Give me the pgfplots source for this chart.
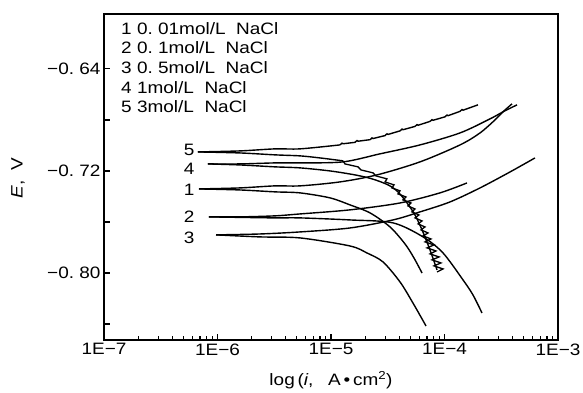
\documentclass[border=0pt]{standalone}
\usepackage{fontspec}
\setmainfont{Liberation Sans}[FakeStretch=1.15]
\usepackage{pgfplots}
\pgfplotsset{compat=1.18}
\frenchspacing
\newcommand{\fs}{\fontsize{16.5bp}{19.7bp}\selectfont}
\begin{document}
\begin{tikzpicture}[x=1bp,y=1bp]
\path[use as bounding box] (0,0) rectangle (583,392);
\begin{axis}[
  at={(104bp,52bp)}, anchor=south west,
  scale only axis, width=454bp, height=326bp,
  xmin=-7, xmax=-3, ymin=-0.8525, ymax=-0.597,
  axis line style={line width=2.3bp},
  tick style={line width=1.2bp, black},
  tick align=inside,
  xtick={-7,-6,-5,-4,-3},
  xticklabels={1E−7,1E−6,1E−5,1E−4,1E−3},
  minor xtick={-6.699,-6.523,-6.398,-6.301,-6.222,-6.155,-6.097,-6.046,
               -5.699,-5.523,-5.398,-5.301,-5.222,-5.155,-5.097,-5.046,
               -4.699,-4.523,-4.398,-4.301,-4.222,-4.155,-4.097,-4.046,
               -3.699,-3.523,-3.398,-3.301,-3.222,-3.155,-3.097,-3.046},
  ytick={-0.84,-0.80,-0.76,-0.72,-0.68,-0.64},
  yticklabels={,−0.\ 80,,−0.\ 72,,−0.\ 64},
  xtick pos=bottom, ytick pos=left,
  major tick length=6bp, minor tick length=4bp,
  tick label style={font=\fs},
]
% curve 1
\addplot[black, line width=1.4bp, smooth, tension=0.5] coordinates {(-6.163,-0.7341) (-5.802,-0.7333) (-5.493,-0.7317) (-5.273,-0.7317) (-4.921,-0.7286) (-4.595,-0.7231) (-4.216,-0.7129) (-3.863,-0.6996) (-3.687,-0.6902) (-3.555,-0.6800) (-3.485,-0.6737) (-3.405,-0.6674)};
\addplot[black, line width=1.4bp, smooth, tension=0.5] coordinates {(-6.163,-0.7341) (-5.802,-0.7349) (-5.493,-0.7364) (-5.273,-0.7372) (-5.009,-0.7411) (-4.833,-0.7466) (-4.656,-0.7529) (-4.480,-0.7639) (-4.348,-0.7772) (-4.269,-0.7882) (-4.198,-0.8000)};
% curve 2
\addplot[black, line width=1.4bp, smooth, tension=0.5] coordinates {(-6.075,-0.7560) (-5.802,-0.7560) (-5.493,-0.7552) (-5.273,-0.7537) (-4.833,-0.7505) (-4.392,-0.7451) (-4.040,-0.7372) (-3.802,-0.7294)};
\addplot[black, line width=1.4bp, smooth, tension=0.5] coordinates {(-6.075,-0.7560) (-5.802,-0.7564) (-5.493,-0.7568) (-5.273,-0.7568) (-4.833,-0.7584) (-4.454,-0.7607) (-4.189,-0.7717) (-4.013,-0.7843) (-3.837,-0.8054) (-3.749,-0.8172) (-3.670,-0.8313)};
% curve 3
\addplot[black, line width=1.4bp, smooth, tension=0.5] coordinates {(-6.013,-0.7701) (-5.626,-0.7694) (-5.273,-0.7678) (-4.833,-0.7647) (-4.454,-0.7584) (-4.216,-0.7521) (-3.952,-0.7443) (-3.687,-0.7333) (-3.423,-0.7208) (-3.203,-0.7098)};
\addplot[black, line width=1.4bp, smooth, tension=0.5] coordinates {(-6.013,-0.7701) (-5.626,-0.7717) (-5.273,-0.7725) (-4.833,-0.7788) (-4.683,-0.7843) (-4.542,-0.7913) (-4.392,-0.8070) (-4.278,-0.8235) (-4.163,-0.8415)};
% curve 4
\addplot[black, line width=1.4bp, smooth, tension=0.5] coordinates {(-6.084,-0.7145) (-5.802,-0.7145) (-5.493,-0.7137) (-5.273,-0.7137) (-4.894,-0.7129) (-4.568,-0.7066) (-4.216,-0.6996) (-3.863,-0.6902) (-3.599,-0.6792) (-3.485,-0.6737) (-3.361,-0.6682)};
\addplot[black, line width=1.4bp, smooth, tension=0.5] coordinates {(-6.084,-0.7145) (-5.802,-0.7153) (-5.493,-0.7168) (-5.273,-0.7176) (-5.009,-0.7200) (-4.789,-0.7231) (-4.639,-0.7262) (-4.498,-0.7309) (-4.410,-0.7364) (-4.330,-0.7451) (-4.260,-0.7545) (-4.198,-0.7662) (-4.128,-0.7819) (-4.066,-0.7976)};
% curve 5
\addplot[black, line width=1.4bp, smooth, tension=0.5] coordinates {(-6.172,-0.7051) (-5.802,-0.7043) (-5.493,-0.7027) (-5.273,-0.7027) (-4.921,-0.6996)};
\addplot[black, line width=1.4bp, sharp plot] coordinates {(-4.921,-0.6996) (-4.903,-0.6982) (-4.894,-0.6987) (-4.789,-0.6976) (-4.771,-0.6962) (-4.762,-0.6967) (-4.656,-0.6955) (-4.639,-0.6941) (-4.630,-0.6946) (-4.524,-0.6923) (-4.507,-0.6909) (-4.498,-0.6914) (-4.392,-0.6886) (-4.374,-0.6872) (-4.366,-0.6877) (-4.260,-0.6851) (-4.242,-0.6837) (-4.233,-0.6842) (-4.128,-0.6812) (-4.110,-0.6798) (-4.101,-0.6803) (-3.996,-0.6776) (-3.978,-0.6762) (-3.969,-0.6767) (-3.863,-0.6733) (-3.846,-0.6719) (-3.837,-0.6724) (-3.705,-0.6682)};
\addplot[black, line width=1.4bp, smooth, tension=0.5] coordinates {(-6.172,-0.7051) (-5.802,-0.7059) (-5.493,-0.7074) (-5.273,-0.7082) (-5.097,-0.7098) (-4.894,-0.7121)};
\addplot[black, line width=1.3bp, sharp plot] coordinates {(-4.894,-0.7121) (-4.877,-0.7145) (-4.762,-0.7168) (-4.736,-0.7192) (-4.630,-0.7215) (-4.604,-0.7239) (-4.507,-0.7262) (-4.524,-0.7286) (-4.445,-0.7309) (-4.463,-0.7333) (-4.392,-0.7356) (-4.410,-0.7380) (-4.339,-0.7404) (-4.366,-0.7427) (-4.296,-0.7451) (-4.322,-0.7474) (-4.260,-0.7498) (-4.287,-0.7521) (-4.225,-0.7545) (-4.260,-0.7568) (-4.198,-0.7592) (-4.233,-0.7615) (-4.172,-0.7639) (-4.207,-0.7662) (-4.145,-0.7686) (-4.189,-0.7709) (-4.119,-0.7733) (-4.172,-0.7756) (-4.093,-0.7780) (-4.154,-0.7803) (-4.075,-0.7827) (-4.128,-0.7850) (-4.048,-0.7874) (-4.110,-0.7897) (-4.031,-0.7921) (-4.093,-0.7944) (-4.013,-0.7968) (-4.066,-0.7992)};
% curve labels
\node[font=\fs] at (axis cs:-6.25,-0.7035) {5};
\node[font=\fs] at (axis cs:-6.25,-0.7184) {4};
\node[font=\fs] at (axis cs:-6.25,-0.7349) {1};
\node[font=\fs] at (axis cs:-6.25,-0.7560) {2};
\node[font=\fs] at (axis cs:-6.25,-0.7725) {3};
\end{axis}
\node[anchor=north west, inner sep=0pt, align=left, font=\fs] at (121,370)
  {1 0.\ 01mol/L\ \ NaCl\\2 0.\ 1mol/L\ \ NaCl\\3 0.\ 5mol/L\ \ NaCl\\4 1mol/L\ \ NaCl\\5 3mol/L\ \ NaCl};
\node[rotate=90, font=\fs] at (18,214) {\textit{E},\hspace{0.6em}V};
\node[font=\fs] at (331,12) {log\,(\textit{i},\hspace{0.9em}A\,•\,cm\textsuperscript{2})};
\end{tikzpicture}
\end{document}
